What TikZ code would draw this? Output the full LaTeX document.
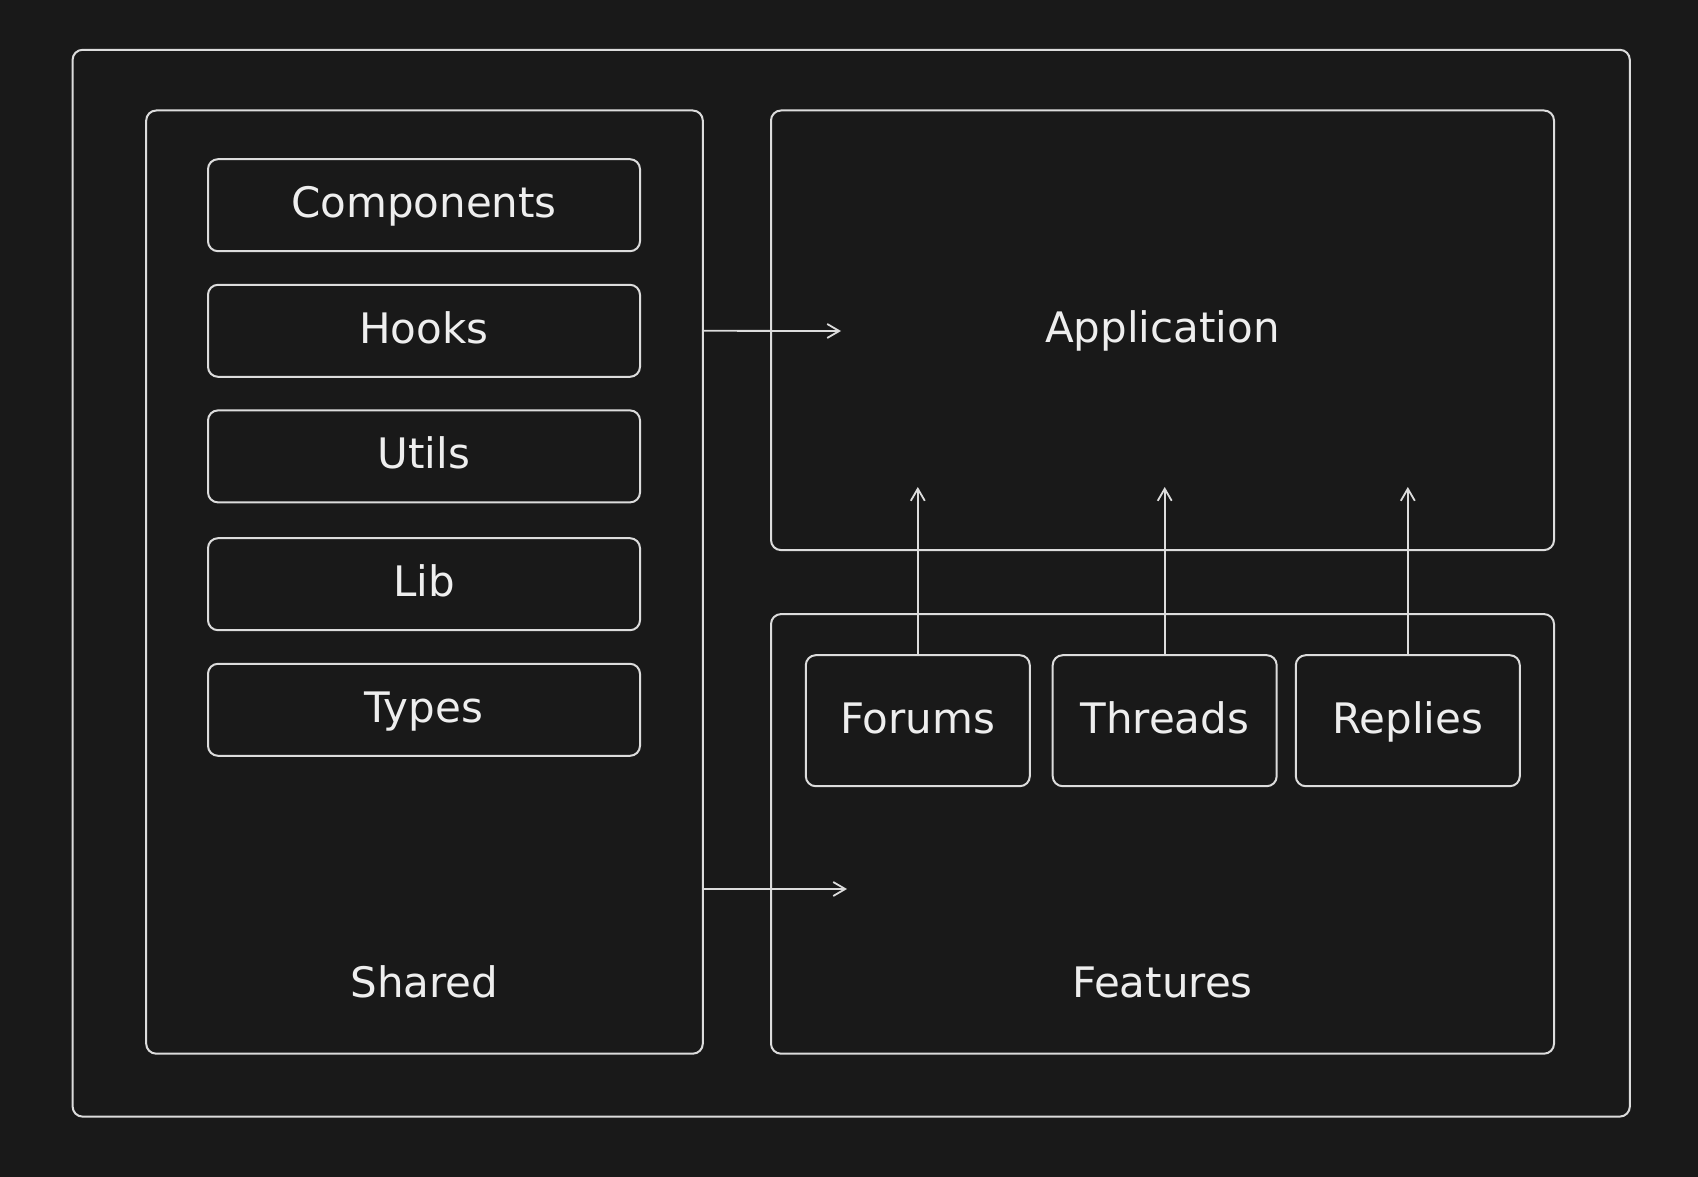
\documentclass[tikz,border=0pt]{standalone}
\usepackage{fontspec}
\setmainfont{DejaVu Sans}
\usetikzlibrary{arrows.meta}
\definecolor{bgdark}{HTML}{191919}
\definecolor{inkline}{HTML}{DCDCDC}
\definecolor{inktext}{HTML}{EEEEEE}
\tikzset{every picture/.style={line width=1pt}}

\begin{document}
\begin{tikzpicture}[x=0.5pt,y=0.5pt,yscale=-1,xscale=1,
    box/.style={draw=inkline, rounded corners=5pt, inner sep=0pt},
    lbl/.style={text=inktext, font=\fontsize{21}{25}\selectfont, text height=16pt, text depth=3.6pt},
    link/.style={draw=inkline, line width=0.9pt, -{Straight Barb[length=6pt,width=7pt]}}]
		% canvas
		\fill [bgdark] (0,0) rectangle (1698,1177);
		\useasboundingbox (0,0) rectangle (1698,1177);
		
		% outer frame
		\node [box, minimum width=778.6pt, minimum height=533.4pt] (frame) at (851.2,583.2) {};
		
		% Shared column
		\node [box, minimum width=278.3pt, minimum height=471.6pt] (shared) at (424.5,582.1) {};
		\node [lbl] (sharedtxt) at (424.5,985) {Shared};
		\foreach \name/\txt/\yy in {comp/Components/205.2, hooks/Hooks/330.8, utils/Utils/456.4, lib/Lib/584.2, types/Types/709.8}
			\node [box, lbl, minimum width=216pt, minimum height=46pt] (\name) at (424,\yy) {\txt};
		
		% Application
		\node [box, lbl, minimum width=391.5pt, minimum height=219.8pt] (app) at (1162.5,330.3) {Application};
		
		% Features
		\node [box, minimum width=391.5pt, minimum height=219.8pt] (feat) at (1162.5,833.9) {};
		\node [lbl] (feattxt) at (1162.5,985) {Features};
		\foreach \name/\txt/\xx in {forums/Forums/917.8, threads/Threads/1164.7, replies/Replies/1407.8}
			\node [box, lbl, minimum width=112pt, minimum height=65.5pt] (\name) at (\xx,720.7) {\txt};
		
		% arrows
		\coordinate (tipapp) at (841,331);
		\coordinate (tipfeat) at (847,889);
		\draw [link] (shared.east |- hooks.east) -- (tipapp);
		\draw [link] (shared.east |- tipfeat) -- (tipfeat);
		\foreach \name in {forums, threads, replies} {
			\coordinate (up\name) at (\name.north |- 0,487);
			\draw [link] (\name.north) -- (up\name);
		}
	\end{tikzpicture}
\end{document}
